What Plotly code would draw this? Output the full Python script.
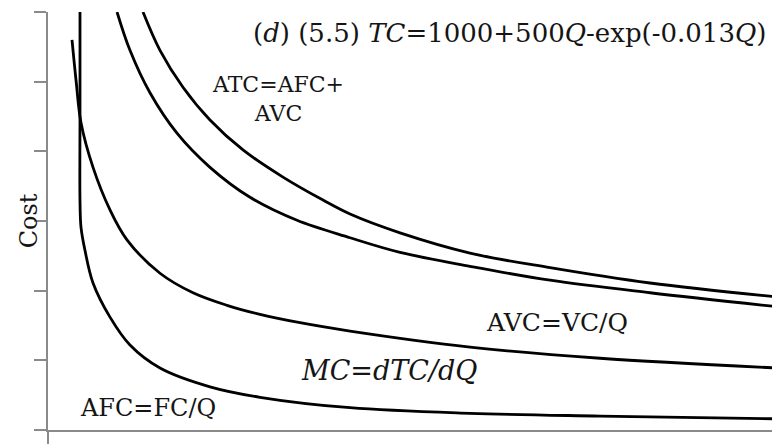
import plotly.graph_objects as go

# curves (Q on 0..100, Cost on 0..6)
atc_q = [12.98, 15.30, 18.44, 22.13, 26.64, 32.10, 37.57, 41.26, 48.09, 57.65, 68.58, 82.24, 99.59]
atc_cost = [6.00, 5.45, 4.92, 4.45, 4.02, 3.63, 3.30, 3.10, 2.83, 2.54, 2.33, 2.11, 1.91]

avc_q = [9.43, 11.20, 13.93, 17.62, 22.13, 27.60, 34.02, 41.26, 48.09, 57.65, 68.58, 82.24, 99.59]
avc_cost = [6.00, 5.45, 4.84, 4.26, 3.77, 3.34, 3.01, 2.76, 2.55, 2.35, 2.15, 1.97, 1.77]

mc_q = [3.28, 3.83, 4.51, 6.15, 8.47, 10.79, 15.30, 19.81, 24.45, 28.96, 34.43, 41.26, 57.65, 75.41, 99.59]
mc_cost = [5.60, 5.02, 4.41, 3.77, 3.16, 2.73, 2.25, 1.97, 1.79, 1.66, 1.54, 1.42, 1.19, 1.03, 0.89]

afc_q = [4.37, 4.37, 4.37, 4.51, 5.05, 6.15, 8.47, 11.20, 15.30, 22.13, 28.96, 41.26, 57.65, 75.41, 99.59]
afc_cost = [6.00, 4.45, 3.30, 2.91, 2.58, 2.11, 1.62, 1.22, 0.89, 0.62, 0.47, 0.32, 0.24, 0.20, 0.16]

y_ticks = [0, 1, 2, 3, 4, 5, 6]

SERIF = "DejaVu Serif"
INK = "#151515"
AXIS = "#8a8a8a"

fig = go.Figure()
for name, xs, ys in [("ATC", atc_q, atc_cost), ("AVC", avc_q, avc_cost),
                     ("MC", mc_q, mc_cost), ("AFC", afc_q, afc_cost)]:
    fig.add_trace(go.Scatter(
        x=xs, y=ys, name=name, mode="lines",
        line=dict(color="black", width=2.8, shape="spline", smoothing=1.0),
        hoverinfo="skip",
    ))

# labels
fig.add_annotation(x=62.98, y=5.70,
                   text="(<i>d</i>) (5.5) <i>TC</i>=1000+500<i>Q</i>-exp(-0.013<i>Q</i>)",
                   font=dict(size=26))
fig.add_annotation(x=31.4, y=4.75, text="ATC=AFC+<br>AVC", font=dict(size=22))
fig.add_annotation(x=69.5, y=1.54, text="AVC=VC/Q", font=dict(size=25))
fig.add_annotation(x=46.6, y=0.85, text="<i>MC=dTC/dQ</i>", font=dict(size=27))
fig.add_annotation(x=13.66, y=0.32, text="AFC=FC/Q", font=dict(size=24))
fig.add_annotation(x=97.0, y=-0.07, text="Q", font=dict(size=24))
fig.add_annotation(xref="paper", x=-0.026, y=3.01, text="Cost", textangle=-90,
                   font=dict(size=24))
fig.update_annotations(showarrow=False, xanchor="center", yanchor="middle",
                       font_family=SERIF, font_color=INK)

# page body has an 8px margin, so the figure is 8px smaller than the window
fig.update_layout(
    width=772, height=440,
    margin=dict(l=40, r=0, t=4, b=18),
    paper_bgcolor="white", plot_bgcolor="white",
    showlegend=False,
    xaxis=dict(range=[0, 100], showgrid=False, zeroline=False,
               showline=True, linecolor=AXIS, linewidth=2,
               tickmode="array", tickvals=[0], ticks="outside", ticklen=12,
               tickcolor=AXIS, tickwidth=2, showticklabels=False),
    yaxis=dict(range=[0, 6], showgrid=False, zeroline=False,
               showline=True, linecolor=AXIS, linewidth=2,
               tickmode="array", tickvals=y_ticks, ticks="outside", ticklen=12,
               tickcolor=AXIS, tickwidth=2, showticklabels=False),
)

fig.write_html("out.html")
